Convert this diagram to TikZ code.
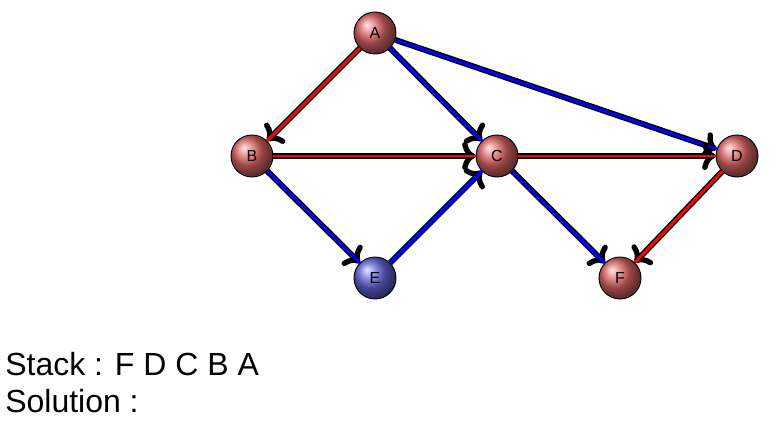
\documentclass[tikz,border=0pt]{standalone}
\usepackage{fontspec}
\setmainfont{Liberation Sans}
\usetikzlibrary{arrows.meta,shadings}
\definecolor{nodered}{RGB}{220,100,100}
\definecolor{nodeblue}{RGB}{100,100,220}
\definecolor{edgered}{RGB}{255,0,0}
\definecolor{edgeblue}{RGB}{0,0,255}
\begin{document}
\begin{tikzpicture}[x=0.75pt,y=-0.75pt,
  vtx/.style={circle, draw=black, line width=0.7pt, minimum size=31.5pt, inner sep=0pt, shading=ball, ball color=#1, font=\fontsize{12}{12}\selectfont},
  edge/.style={draw=black, line width=4.4pt, -{Computer Modern Rightarrow[length=10pt,width=21pt,line width=4pt 0 1, round]},
    postaction={draw=#1, line width=2.2pt, -}},
  label/.style={anchor=base west, inner sep=0pt, font=\fontsize{24}{24}\selectfont}]
\useasboundingbox (0,0) rectangle (778,438);
\node[vtx=nodered] (A) at (375,33) {A};
\node[vtx=nodered] (B) at (252,156) {B};
\node[vtx=nodered] (C) at (497,156) {C};
\node[vtx=nodered] (D) at (737,156) {D};
\node[vtx=nodeblue] (E) at (375,278) {E};
\node[vtx=nodered] (F) at (620,278) {F};
\draw[edge=edgered] (A) -- (B);
\draw[edge=edgeblue] (A) -- (C);
\draw[edge=edgeblue] (A) -- (D);
\draw[edge=edgered] (B) -- (C);
\draw[edge=edgeblue] (B) -- (E);
\draw[edge=edgeblue] (E) -- (C);
\draw[edge=edgered] (C) -- (D);
\draw[edge=edgeblue] (C) -- (F);
\draw[edge=edgered] (D) -- (F);
\node[label] (stack) at (5,375) {Stack : F D C B A};
\node[label] (sol) at (5,412) {Solution :};
\end{tikzpicture}
\end{document}
